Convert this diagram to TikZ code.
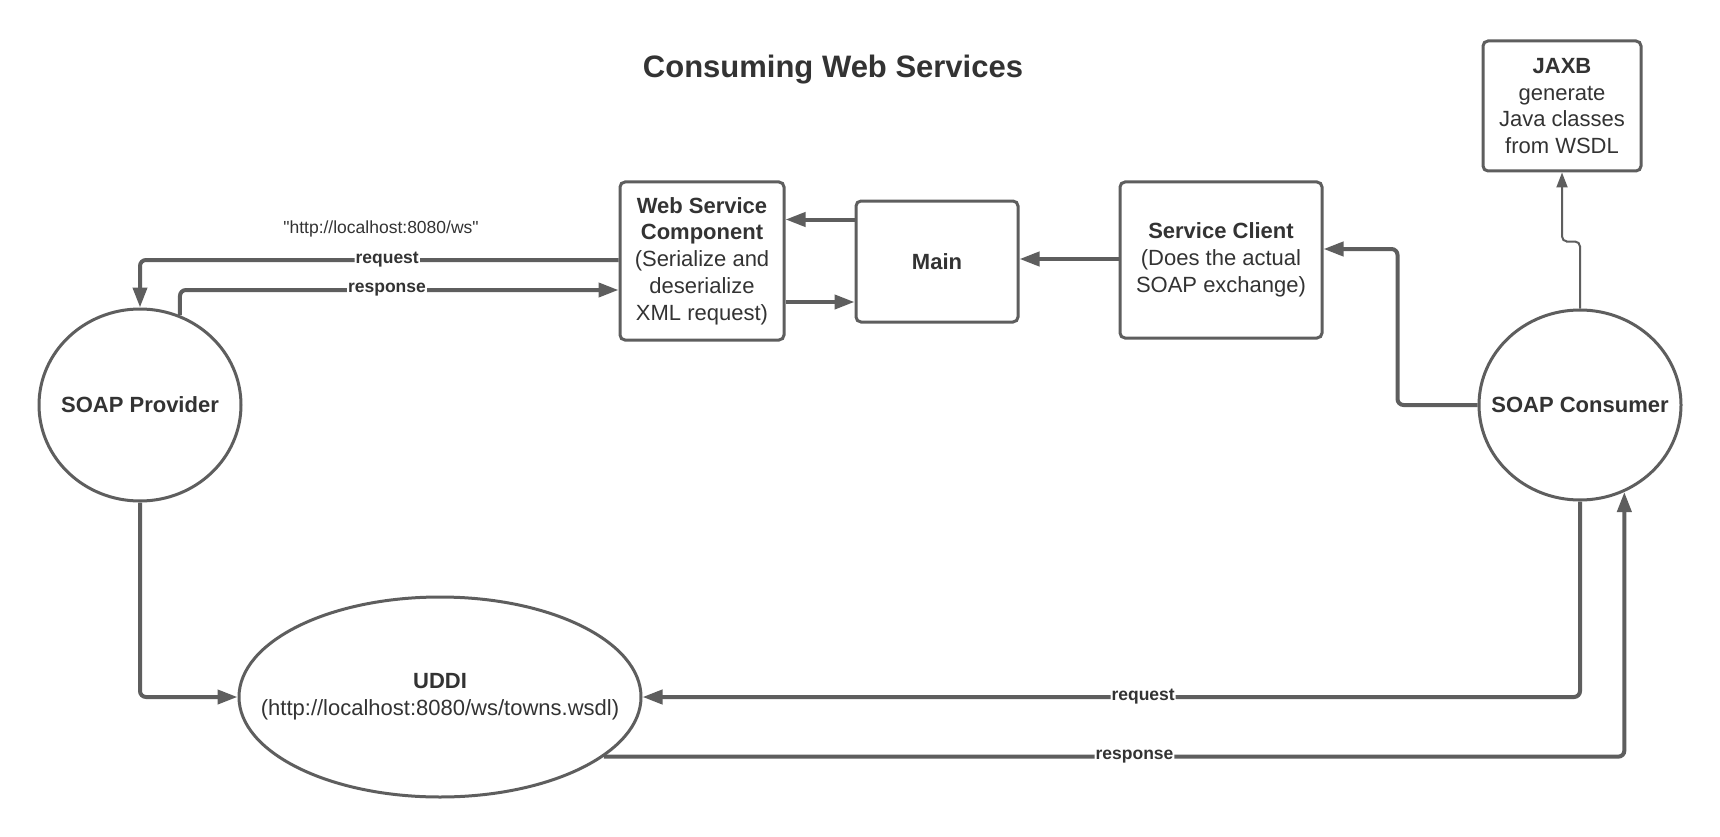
\documentclass[tikz,border=0pt]{standalone}
\usepackage{fontspec}
\setmainfont{Liberation Sans}[Ligatures=TeXOff]
\usetikzlibrary{arrows.meta,shapes.geometric,calc}
\definecolor{linec}{HTML}{5E5E5E}
\definecolor{txtc}{HTML}{333333}
\begin{document}
\begin{tikzpicture}[x=1pt,y=-1pt,
  box/.style={draw=linec,line width=3pt,rounded corners=5pt,fill=white,text=txtc,align=center,font=\fontsize{22}{26.8}\selectfont,inner sep=0pt},
  oval/.style={ellipse,draw=linec,line width=3pt,fill=white,inner sep=0pt},
  ovaltext/.style={text=txtc,align=center,font=\fontsize{22}{26.8}\selectfont,inner sep=0pt},
  conn/.style={draw=linec,line width=4pt,rounded corners=6pt,-{Triangle[length=20pt,width=14pt]}},
  thinconn/.style={draw=linec,line width=2pt,rounded corners=5pt,-{Triangle[length=15pt,width=11pt]}},
  lbl/.style={fill=white,text=txtc,font=\fontsize{17.5}{20}\selectfont\bfseries,inner sep=1pt},
  plain/.style={text=txtc,font=\fontsize{17.5}{20}\selectfont,inner sep=0pt}]
\fill[white] (0,0) rectangle (1720,837);
\useasboundingbox (0,0) rectangle (1720,837);

\node[text=txtc,font=\fontsize{31}{36}\selectfont\bfseries] (title) at (833,70) {Consuming Web Services};

\node[oval,minimum width=202pt,minimum height=192pt] (prov) at (140,405) {};
\node[ovaltext] (provt) at (prov.center) {\textbf{SOAP Provider}};
\node[box,minimum width=164pt,minimum height=158pt] (wsc) at (702,261) {\textbf{Web Service}\\\textbf{Component}\\(Serialize and\\deserialize\\XML request)};
\node[box,minimum width=162pt,minimum height=121pt] (main) at (937,261.5) {\textbf{Main}};
\node[box,minimum width=202pt,minimum height=156pt] (sc) at (1221,260) {\textbf{Service Client}\\(Does the actual\\SOAP exchange)};
\node[box,minimum width=158pt,minimum height=130pt] (jaxb) at (1562,106) {\textbf{JAXB}\\generate\\Java classes\\from WSDL};
\node[oval,minimum width=202pt,minimum height=190pt] (cons) at (1580,405) {};
\node[ovaltext] (const) at (cons.center) {\textbf{SOAP Consumer}};
\node[oval,minimum width=402pt,minimum height=200pt] (uddi) at (440,697) {};
\node[ovaltext] (uddit) at (uddi.center) {\textbf{UDDI}\\(http://localhost:8080/ws/towns.wsdl)};

\node[plain] (url) at (381,229) {"http://localhost:8080/ws"};

% provider <-> web service component
\draw[conn] ($(wsc.west)+(0,-1)$) -| (prov.north) node[lbl,pos=0.2417] {request};
\draw[conn] (prov.66) |- ($(wsc.west)+(0,29)$) node[lbl,pos=0.736] {response};

% main <-> wsc
\coordinate (mw) at ($(main.west)+(0,-42)$);
\draw[conn] (mw) -- (mw -| wsc.east);
\coordinate (we) at ($(wsc.east)+(0,41)$);
\draw[conn] (we) -- (we -| main.west);

% service client -> main
\coordinate (scw) at ($(sc.west)+(0,-1)$);
\draw[conn] (scw) -- (scw -| main.east);

% consumer -> service client
\coordinate (scin) at ($(sc.east)+(0,-11)$);
\draw[conn] (cons.west) -- ++(-80,0) |- (scin);

% consumer -> JAXB
\draw[thinconn] (cons.north) |- ($(jaxb.south)+(9,69)$) -| (jaxb.south);

% provider -> UDDI
\draw[conn] (prov.south) |- (uddi.west);

% consumer <-> UDDI
\draw[conn] (cons.south) |- (uddi.east) node[lbl,pos=0.733] {request};
\draw[conn] (uddi.-20) -| (cons.-63) node[lbl,pos=0.26] {response};
\end{tikzpicture}
\end{document}
